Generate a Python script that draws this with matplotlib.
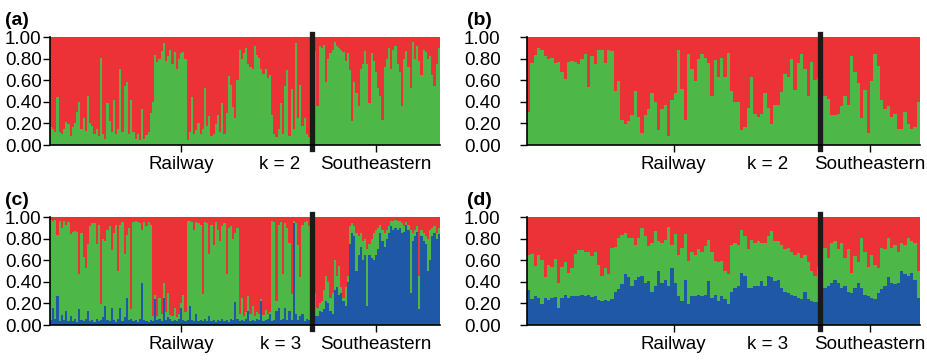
import numpy as np
import matplotlib
matplotlib.use("Agg")
import matplotlib.pyplot as plt

plt.rcParams['font.family'] = ['Liberation Sans', 'DejaVu Sans']

red = '#ED3237'
green = '#4DB848'
blue = '#1E58A6'

groups = ['Railway', 'Southeastern']
yticks = [0.0, 0.2, 0.4, 0.6, 0.8, 1.0]

# (a) k = 2, many individuals: green membership (red is the rest)
a_rail = 121
a_green = [0.17, 0.15, 0.12, 0.44, 0.12, 0.10, 0.15, 0.21, 0.19, 0.08,
           0.17, 0.20, 0.31, 0.40, 0.15, 0.25, 0.13, 0.45, 0.20, 0.18,
           0.10, 0.15, 0.08, 0.81, 0.10, 0.06, 0.39, 0.22, 0.12, 0.42,
           0.10, 0.15, 0.70, 0.12, 0.55, 0.58, 0.10, 0.42, 0.12, 0.06,
           0.10, 0.05, 0.33, 0.06, 0.09, 0.12, 0.30, 0.40, 0.83, 0.77,
           0.80, 0.87, 0.94, 0.78, 0.82, 0.88, 0.75, 0.86, 0.70, 0.80,
           0.85, 0.86, 0.80, 0.05, 0.12, 0.44, 0.10, 0.14, 0.20, 0.10,
           0.15, 0.53, 0.18, 0.27, 0.08, 0.10, 0.19, 0.28, 0.12, 0.39,
           0.10, 0.30, 0.64, 0.56, 0.35, 0.25, 0.60, 0.88, 0.80, 0.85,
           0.90, 0.75, 0.72, 0.70, 0.92, 0.83, 0.81, 0.70, 0.66, 0.70,
           0.62, 0.65, 0.28, 0.10, 0.07, 0.15, 0.39, 0.10, 0.55, 0.69,
           0.08, 0.52, 0.15, 0.94, 0.25, 0.56, 0.18, 0.25, 0.10, 0.07,
           0.10,
           0.81, 0.87, 0.36, 0.92, 0.90, 0.93, 0.58, 0.80, 0.85, 0.88,
           0.95, 0.92, 0.90, 0.88, 0.86, 0.78, 0.85, 0.69, 0.22, 0.58,
           0.48, 0.36, 0.70, 0.75, 0.87, 0.75, 0.39, 0.85, 0.78, 0.68,
           0.53, 0.45, 0.23, 0.72, 0.80, 0.90, 0.70, 0.88, 0.92, 0.75,
           0.68, 0.36, 0.80, 0.87, 0.72, 0.53, 0.95, 0.80, 0.92, 0.78,
           0.65, 0.88, 0.86, 0.80, 0.82, 0.65, 0.55, 0.75, 0.90]

# (b) k = 2, fewer individuals
b_rail = 88
b_green = [0.31, 0.76, 0.83, 0.90, 0.88, 0.82, 0.80, 0.81, 0.76, 0.77,
           0.68, 0.61, 0.77, 0.78, 0.77, 0.75, 0.80, 0.84, 0.54, 0.82,
           0.75, 0.88, 0.88, 0.76, 0.88, 0.87, 0.50, 0.59, 0.23, 0.19,
           0.22, 0.28, 0.50, 0.26, 0.11,
           0.28, 0.33, 0.48, 0.40, 0.14, 0.33, 0.37, 0.08, 0.42, 0.48,
           0.88, 0.52, 0.23, 0.84, 0.70, 0.59, 0.80, 0.84, 0.81, 0.76,
           0.45, 0.79, 0.63, 0.81, 0.63, 0.85, 0.50, 0.40, 0.40, 0.14,
           0.17, 0.34, 0.63, 0.29, 0.26, 0.29, 0.48, 0.34, 0.19, 0.37,
           0.37, 0.49, 0.66, 0.63, 0.80, 0.51, 0.76, 0.84, 0.70, 0.45,
           0.77, 0.60, 0.62,
           0.31, 0.45, 0.43, 0.28, 0.28, 0.29, 0.36, 0.45, 0.37, 0.82,
           0.68, 0.57, 0.25, 0.51, 0.11, 0.59, 0.84, 0.73, 0.42, 0.33,
           0.36, 0.26, 0.29, 0.15, 0.15, 0.31, 0.19, 0.15, 0.17, 0.40]

# (c) k = 3: blue membership and blue+green top
c_rail = 121
c_blue = [0.05, 0.16, 0.06, 0.27, 0.04, 0.09, 0.05, 0.13, 0.04, 0.08,
          0.04, 0.06, 0.03, 0.15, 0.05, 0.04, 0.06, 0.13, 0.04, 0.05,
          0.03, 0.06, 0.04, 0.05, 0.07, 0.18, 0.05, 0.04, 0.16, 0.05,
          0.03, 0.06, 0.16, 0.04, 0.07, 0.25, 0.05, 0.06, 0.04, 0.05,
          0.03, 0.06, 0.39, 0.05, 0.04, 0.03, 0.05, 0.04, 0.24, 0.05,
          0.06, 0.04, 0.25, 0.05, 0.07, 0.06, 0.04, 0.05, 0.04, 0.06,
          0.16, 0.05, 0.04, 0.05, 0.18, 0.05, 0.04, 0.10, 0.04, 0.05,
          0.04, 0.06, 0.04, 0.08, 0.04, 0.05, 0.03, 0.05, 0.04, 0.06,
          0.04, 0.05, 0.03, 0.06, 0.05, 0.21, 0.06, 0.04, 0.05, 0.04,
          0.06, 0.13, 0.04, 0.05, 0.04, 0.06, 0.05, 0.22, 0.04, 0.05,
          0.06, 0.10, 0.04, 0.05, 0.13, 0.16, 0.05, 0.06, 0.16, 0.05,
          0.13, 0.05, 0.94, 0.10, 0.05, 0.08, 0.10, 0.04, 0.06, 0.05,
          0.08,
          0.10, 0.08, 0.08, 0.13, 0.12, 0.15, 0.22, 0.20, 0.13, 0.10,
          0.32, 0.35, 0.28, 0.30, 0.22, 0.18, 0.40, 0.75, 0.85, 0.82,
          0.50, 0.65, 0.72, 0.60, 0.65, 0.18, 0.65, 0.62, 0.60, 0.65,
          0.70, 0.85, 0.78, 0.72, 0.80, 0.85, 0.92, 0.88, 0.90, 0.88,
          0.90, 0.85, 0.86, 0.93, 0.88, 0.30, 0.78, 0.82, 0.86, 0.15,
          0.82, 0.78, 0.75, 0.50, 0.60, 0.82, 0.85, 0.80, 0.84]
c_top = [0.97, 0.96, 0.97, 0.83, 0.96, 0.90, 0.96, 0.93, 0.95, 0.84,
         0.86, 0.87, 0.86, 0.47, 0.85, 0.63, 0.53, 0.75, 0.92, 0.94,
         0.94, 0.75, 0.93, 0.19, 0.80, 0.78, 0.88, 0.92, 0.69, 0.85,
         0.93, 0.50, 0.93, 0.95, 0.66, 0.83, 0.90, 0.15, 0.95, 0.96,
         0.95, 0.94, 0.88, 0.95, 0.92, 0.95, 0.93, 0.08, 0.28, 0.08,
         0.25, 0.10, 0.39, 0.12, 0.30, 0.09, 0.08, 0.16, 0.07, 0.10,
         0.20, 0.28, 0.12, 0.96, 0.96, 0.95, 0.88, 0.95, 0.94, 0.93,
         0.29, 0.95, 0.94, 0.66, 0.93, 0.74, 0.95, 0.88, 0.78, 0.92,
         0.94, 0.47, 0.90, 0.92, 0.80, 0.85, 0.90, 0.10, 0.25, 0.08,
         0.12, 0.27, 0.10, 0.18, 0.08, 0.12, 0.10, 0.24, 0.09, 0.14,
         0.10, 0.12, 0.96, 0.95, 0.22, 0.93, 0.95, 0.47, 0.94, 0.90,
         0.76, 0.29, 0.96, 0.94, 0.74, 0.44, 0.93, 0.95, 0.96, 0.92,
         0.15,
         0.35, 0.30, 0.16, 0.20, 0.22, 0.32, 0.45, 0.40, 0.25, 0.30,
         0.60, 0.45, 0.55, 0.35, 0.25, 0.35, 0.45, 0.92, 0.94, 0.92,
         0.85, 0.82, 0.85, 0.78, 0.80, 0.70, 0.75, 0.80, 0.85, 0.88,
         0.90, 0.93, 0.88, 0.85, 0.88, 0.92, 0.96, 0.96, 0.97, 0.96,
         0.96, 0.94, 0.92, 0.95, 0.93, 0.88, 0.85, 0.88, 0.92, 0.45,
         0.88, 0.85, 0.82, 0.80, 0.88, 0.90, 0.92, 0.85, 0.90]

# (d) k = 3, fewer individuals
d_rail = 88
d_blue = [0.32, 0.24, 0.27, 0.25, 0.19, 0.25, 0.23, 0.25, 0.26, 0.16,
          0.25, 0.28, 0.25, 0.27, 0.27, 0.27, 0.28, 0.27, 0.28, 0.26,
          0.27, 0.23, 0.22, 0.23, 0.22, 0.24, 0.31, 0.33, 0.38, 0.47,
          0.44, 0.36, 0.42, 0.44, 0.45, 0.39,
          0.41, 0.31, 0.36, 0.50, 0.39, 0.42, 0.36, 0.53, 0.39, 0.27,
          0.22, 0.42, 0.19, 0.27, 0.27, 0.28, 0.27, 0.28, 0.41, 0.25,
          0.28, 0.22, 0.27, 0.24, 0.19, 0.31, 0.34, 0.36, 0.48, 0.45,
          0.34, 0.34, 0.36, 0.36, 0.41, 0.36, 0.45, 0.44, 0.41,
          0.42, 0.34, 0.31, 0.30, 0.28, 0.27, 0.25, 0.24, 0.31, 0.24,
          0.22, 0.21, 0.21,
          0.38, 0.34, 0.36, 0.39, 0.42, 0.39, 0.34, 0.36, 0.31, 0.30,
          0.34, 0.39, 0.34, 0.28, 0.27, 0.25, 0.24, 0.30, 0.33, 0.36,
          0.44, 0.39, 0.38, 0.39, 0.50, 0.47, 0.45, 0.48, 0.42, 0.25]
d_top = [0.65, 0.66, 0.55, 0.65, 0.60, 0.44, 0.56, 0.54, 0.61, 0.39,
         0.54, 0.58, 0.48, 0.53, 0.66, 0.69, 0.69, 0.68, 0.68, 0.64,
         0.68, 0.56, 0.45, 0.53, 0.47, 0.71, 0.72, 0.81, 0.83, 0.85,
         0.81, 0.81, 0.74, 0.81, 0.90, 0.82,
         0.73, 0.76, 0.87, 0.78, 0.76, 0.79, 0.91, 0.74, 0.84, 0.65,
         0.71, 0.84, 0.59, 0.68, 0.65, 0.70, 0.68, 0.73, 0.79, 0.68,
         0.59, 0.58, 0.59, 0.50, 0.47, 0.74, 0.76, 0.74, 0.88, 0.82,
         0.70, 0.79, 0.76, 0.78, 0.76, 0.76, 0.82, 0.87, 0.78,
         0.78, 0.74, 0.70, 0.71, 0.68, 0.65, 0.67, 0.62, 0.65, 0.58,
         0.50, 0.45, 0.54,
         0.71, 0.71, 0.62, 0.76, 0.78, 0.70, 0.76, 0.62, 0.70, 0.48,
         0.64, 0.58, 0.81, 0.68, 0.54, 0.65, 0.56, 0.53, 0.71, 0.70,
         0.81, 0.71, 0.74, 0.68, 0.76, 0.74, 0.81, 0.78, 0.76, 0.50]

W, H = 928, 362
fig = plt.figure(figsize=(W / 100, H / 100), dpi=100)


def px_axes(x0, y0, x1, y1):
    return fig.add_axes([x0 / W, 1 - y1 / H, (x1 - x0) / W, (y1 - y0) / H])


def structure(ax, layers, n_rail, k, tag, kx, ypad, tag_dx):
    n = len(layers[0][0])
    edges = np.arange(n + 1) - 0.5
    # red fills the remainder of each individual's bar
    ax.stairs(np.ones(n), edges, fill=True, color=red)
    for vals, col in layers:
        ax.stairs(vals, edges, fill=True, color=col)
    ax.axvline(n_rail - 0.5, ymin=-0.035, ymax=1.03, color='#1a1a1a',
               linewidth=3.8, clip_on=False)
    ax.set_xlim(-0.5, n - 0.5)
    ax.set_ylim(0, 1)
    ax.set_yticks(yticks)
    ax.set_yticklabels(['%.2f' % v for v in yticks])
    ax.set_xticks([(n_rail - 1) / 2, (n_rail + n - 1) / 2])
    ax.set_xticklabels(groups)
    ax.tick_params(axis='both', labelsize=13.5, length=5, width=1)
    ax.tick_params(axis='x', pad=3)
    ax.tick_params(axis='y', pad=ypad)
    for s in ['top', 'right']:
        ax.spines[s].set_visible(False)
    for s in ['left', 'bottom']:
        ax.spines[s].set_linewidth(1.2)
    ax.text(kx, -0.1, 'k = %d' % k, transform=ax.transAxes, fontsize=13.5,
            ha='center', va='top')
    pos = ax.get_position()
    fig.text(pos.x0 - tag_dx / W, pos.y1 + 25 / H, tag, fontsize=14,
             fontweight='bold', ha='left', va='top')


ax_a = px_axes(50, 37, 440, 145)
ax_b = px_axes(527, 37, 920, 145)
ax_c = px_axes(50, 217, 440, 325)
ax_d = px_axes(527, 217, 920, 325)

structure(ax_a, [(np.array(a_green), green)], a_rail, 2, '(a)', 0.59, 1, 45)
structure(ax_b, [(np.array(b_green), green)], b_rail, 2, '(b)', 0.613, 14, 60)
structure(ax_c, [(np.array(c_top), green), (np.array(c_blue), blue)],
          c_rail, 3, '(c)', 0.59, 1, 45)
structure(ax_d, [(np.array(d_top), green), (np.array(d_blue), blue)],
          d_rail, 3, '(d)', 0.613, 14, 60)

fig.savefig('out.png', dpi=100)
